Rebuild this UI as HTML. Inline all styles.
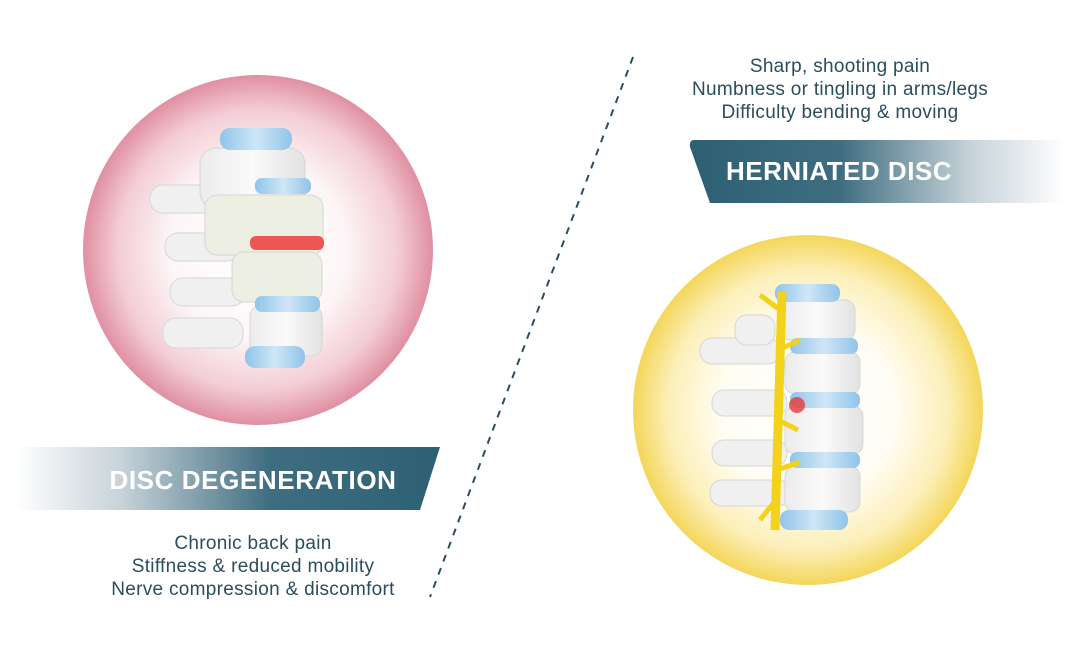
<!DOCTYPE html>
<html><head><meta charset="utf-8"><style>
html,body{margin:0;padding:0;background:#fff;}
body{width:1080px;height:658px;overflow:hidden;position:relative;font-family:"Liberation Sans",sans-serif;}
.t{position:absolute;color:#2b4d5e;font-size:19px;letter-spacing:0.3px;text-align:center;line-height:23px;}
</style></head><body>
<svg width="1080" height="658" style="position:absolute;left:0;top:0">
<defs>
<radialGradient id="pk" cx="50%" cy="50%" r="50%">
<stop offset="0" stop-color="#fff"/><stop offset="0.5" stop-color="#fdf6f7"/><stop offset="0.8" stop-color="#f3cdd5"/><stop offset="1" stop-color="#e08fa2"/></radialGradient>
<radialGradient id="yl" cx="50%" cy="50%" r="50%">
<stop offset="0" stop-color="#fff"/><stop offset="0.5" stop-color="#fffdf3"/><stop offset="0.8" stop-color="#fcefb8"/><stop offset="1" stop-color="#f4d65a"/></radialGradient>
<linearGradient id="b1" x1="0" x2="1"><stop offset="0" stop-color="#fff"/><stop offset="0.25" stop-color="#c7d3d9"/><stop offset="0.6" stop-color="#3f6d80"/><stop offset="1" stop-color="#2d6073"/></linearGradient>
<linearGradient id="b2" x1="0" x2="1"><stop offset="0" stop-color="#2d6073"/><stop offset="0.4" stop-color="#3f6d80"/><stop offset="0.75" stop-color="#c7d3d9"/><stop offset="1" stop-color="#fff"/></linearGradient>
<linearGradient id="bone" x1="0" x2="1"><stop offset="0" stop-color="#ececec"/><stop offset="0.5" stop-color="#fafafa"/><stop offset="1" stop-color="#e2e2e2"/></linearGradient>
<linearGradient id="disc" x1="0" x2="1"><stop offset="0" stop-color="#8fc4ea"/><stop offset="0.5" stop-color="#cfe6f6"/><stop offset="1" stop-color="#8fc4ea"/></linearGradient>
</defs>
<circle cx="258" cy="250" r="175" fill="url(#pk)"/>
<circle cx="808" cy="410" r="175" fill="url(#yl)"/>
<line x1="633" y1="57" x2="430" y2="597" stroke="#2b4d5e" stroke-width="2" stroke-dasharray="7,7"/>
<!-- left spine -->
<g stroke="#d6d6d6" stroke-width="1">
<rect x="150" y="185" width="80" height="28" rx="13" fill="#f0f0f0"/>
<rect x="165" y="233" width="75" height="28" rx="13" fill="#f0f0f0"/>
<rect x="170" y="278" width="75" height="28" rx="13" fill="#f0f0f0"/>
<rect x="163" y="318" width="80" height="30" rx="13" fill="#f0f0f0"/>
<rect x="200" y="148" width="105" height="60" rx="16" fill="url(#bone)"/>
<rect x="205" y="195" width="118" height="60" rx="12" fill="#ecefe2"/>
<rect x="232" y="252" width="90" height="50" rx="12" fill="#ecefe2"/>
<rect x="250" y="306" width="72" height="50" rx="10" fill="url(#bone)"/>
</g>
<rect x="220" y="128" width="72" height="22" rx="10" fill="url(#disc)"/>
<rect x="255" y="178" width="56" height="16" rx="7" fill="url(#disc)"/>
<rect x="250" y="236" width="74" height="14" rx="6" fill="#ee3b3b" opacity="0.85"/>
<rect x="255" y="296" width="65" height="16" rx="7" fill="url(#disc)"/>
<rect x="245" y="346" width="60" height="22" rx="10" fill="url(#disc)"/>
<!-- right spine -->
<g stroke="#d6d6d6" stroke-width="1">
<rect x="700" y="338" width="80" height="26" rx="12" fill="#f0f0f0"/>
<rect x="712" y="390" width="75" height="26" rx="12" fill="#f0f0f0"/>
<rect x="712" y="440" width="75" height="26" rx="12" fill="#f0f0f0"/>
<rect x="710" y="480" width="80" height="26" rx="12" fill="#f0f0f0"/>
<rect x="735" y="315" width="40" height="30" rx="12" fill="#f0f0f0"/>
<rect x="780" y="300" width="75" height="40" rx="10" fill="url(#bone)"/>
<rect x="785" y="352" width="75" height="42" rx="10" fill="url(#bone)"/>
<rect x="785" y="406" width="78" height="48" rx="10" fill="url(#bone)"/>
<rect x="785" y="466" width="75" height="46" rx="10" fill="url(#bone)"/>
</g>
<rect x="775" y="284" width="65" height="18" rx="8" fill="url(#disc)"/>
<rect x="790" y="338" width="68" height="16" rx="7" fill="url(#disc)"/>
<rect x="790" y="392" width="70" height="16" rx="7" fill="url(#disc)"/>
<rect x="790" y="452" width="70" height="16" rx="7" fill="url(#disc)"/>
<rect x="780" y="510" width="68" height="20" rx="9" fill="url(#disc)"/>
<path d="M782 292 L775 530" stroke="#f2d21a" stroke-width="9" fill="none"/>
<path d="M780 310 L760 295 M778 350 L800 340 M778 420 L798 430 M777 470 L800 462 M776 500 L760 520" stroke="#f2d21a" stroke-width="5" fill="none"/>
<circle cx="797" cy="405" r="8" fill="#e63a3a" opacity="0.8"/>
<!-- banners -->
<path d="M22 447 H440 L420 510 H22 Q15 510 15 503 V454 Q15 447 22 447Z" fill="url(#b1)"/>
<path d="M694 140 H1058 Q1065 140 1065 147 V196 Q1065 203 1058 203 H710 L690 147 Q689 140 694 140Z" fill="url(#b2)"/>
<text x="253" y="489" fill="#fff" font-family="Liberation Sans,sans-serif" font-size="26" font-weight="bold" letter-spacing="0.6" text-anchor="middle">DISC DEGENERATION</text>
<text x="839" y="180" fill="#fff" font-family="Liberation Sans,sans-serif" font-size="26" font-weight="bold" letter-spacing="0.5" text-anchor="middle">HERNIATED DISC</text>
</svg>
<div class="t" style="left:640px;top:55px;width:400px">Sharp, shooting pain<br>Numbness or tingling in arms/legs<br>Difficulty bending &amp; moving</div>
<div class="t" style="left:53px;top:532px;width:400px">Chronic back pain<br>Stiffness &amp; reduced mobility<br>Nerve compression &amp; discomfort</div>
</body></html>
